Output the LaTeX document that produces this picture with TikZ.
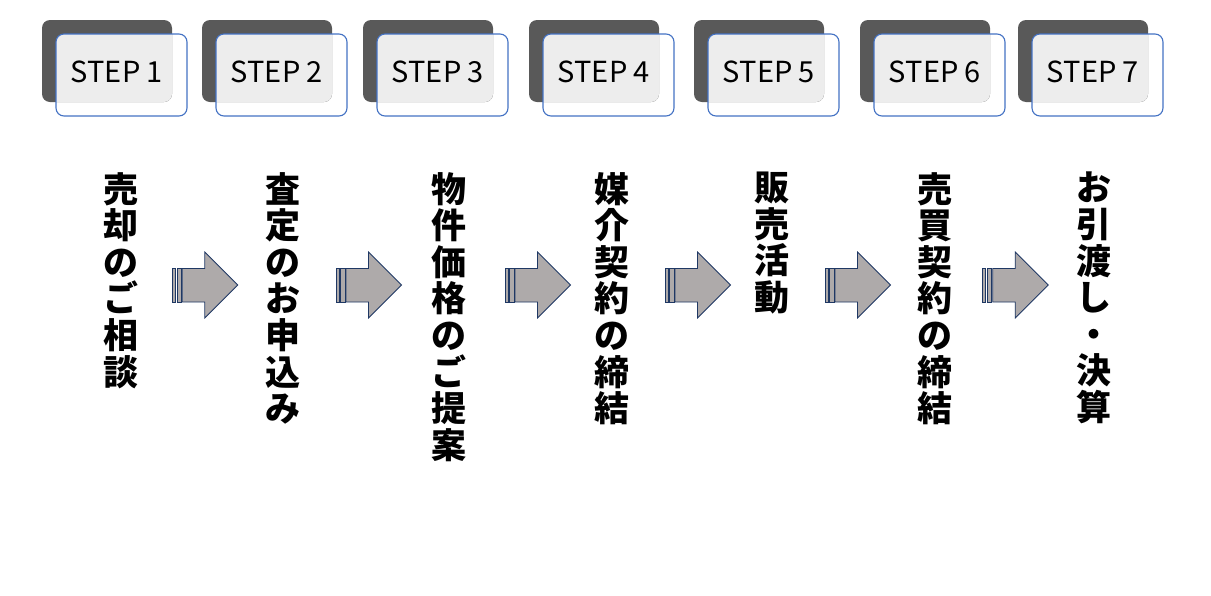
\documentclass[tikz,border=0pt]{standalone}
\usepackage{fontspec}
\setmainfont{Noto Sans CJK JP}
\newfontfamily\cjk{Noto Sans CJK JP}
\definecolor{darkbox}{HTML}{595959}
\definecolor{lightbox}{HTML}{EDEDED}
\definecolor{bluel}{HTML}{4472C4}
\definecolor{arrfill}{HTML}{AEAAAA}
\definecolor{arrline}{HTML}{1F3864}
\tikzset{
  darkrect/.style={fill=darkbox, rounded corners=8pt},
  frontrect/.style={draw=bluel, line width=1.1pt, rounded corners=8pt},
  steplabel/.style={font=\cjk\fontsize{29}{31}\selectfont, inner sep=0pt},
  vtext/.style={font=\cjk\bfseries\fontsize{35}{36.6}\selectfont, align=center, inner sep=0pt, anchor=north},
  arrshape/.style={fill=arrfill, draw=arrline, line width=0.8pt, line join=miter}
}
\newcommand\mystep[3]{%
  % #1 dark-box left x, #2 label, #3 name
  \fill[darkrect] (#1,20) rectangle ++(130,82);
  \begin{scope}
    \clip[rounded corners=8pt] (#1,20) rectangle ++(130,82);
    \fill[lightbox, rounded corners=8pt] (#1+14,34) rectangle ++(131,82);
  \end{scope}
  \draw[frontrect] (#1+14,34) rectangle ++(131,82);
  \node[steplabel] (#3) at (#1+75,72) {#2};
}
\newcommand\myarrow[2]{%
  % #1 left x, #2 name
  \coordinate (#2) at (#1,285);
  \filldraw[arrshape] (#1,268.5) rectangle (#1+3,302);
  \filldraw[arrshape] (#1+4.6,268.5) rectangle (#1+9,302);
  \filldraw[arrshape] (#1+10,268.5) -- (#1+32.5,268.5) -- (#1+32.5,252) -- (#1+65.5,285)
     -- (#1+32.5,318) -- (#1+32.5,302) -- (#1+10,302) -- cycle;
}
\begin{document}
\begin{tikzpicture}[x=1pt,y=-1pt]
\useasboundingbox (0,0) rectangle (1211,595);
\fill[white] (0,0) rectangle (1211,595);

\mystep{42}{STEP 1}{s1}
\mystep{202}{STEP 2}{s2}
\mystep{363}{STEP 3}{s3}
\mystep{529}{STEP 4}{s4}
\mystep{694}{STEP 5}{s5}
\mystep{860}{STEP 6}{s6}
\mystep{1018}{STEP 7}{s7}

\node[vtext] (t1) at (121,172) {売\\却\\の\\ご\\相\\談};
\node[vtext] (t2) at (282.5,172) {査\\定\\の\\お\\申\\込\\み};
\node[vtext] (t3) at (449,172) {物\\件\\価\\格\\の\\ご\\提\\案};
\node[vtext] (t4) at (612,172) {媒\\介\\契\\約\\の\\締\\結};
\node[vtext] (t5) at (772,172) {販\\売\\活\\動};
\node[vtext] (t6) at (935,172) {売\\買\\契\\約\\の\\締\\結};
\node[vtext] (t7) at (1094,172) {お\\引\\渡\\し\\・\\決\\算};

\myarrow{172.3}{a1}
\myarrow{336}{a2}
\myarrow{505}{a3}
\myarrow{665}{a4}
\myarrow{825}{a5}
\myarrow{982.7}{a6}
\end{tikzpicture}
\end{document}
